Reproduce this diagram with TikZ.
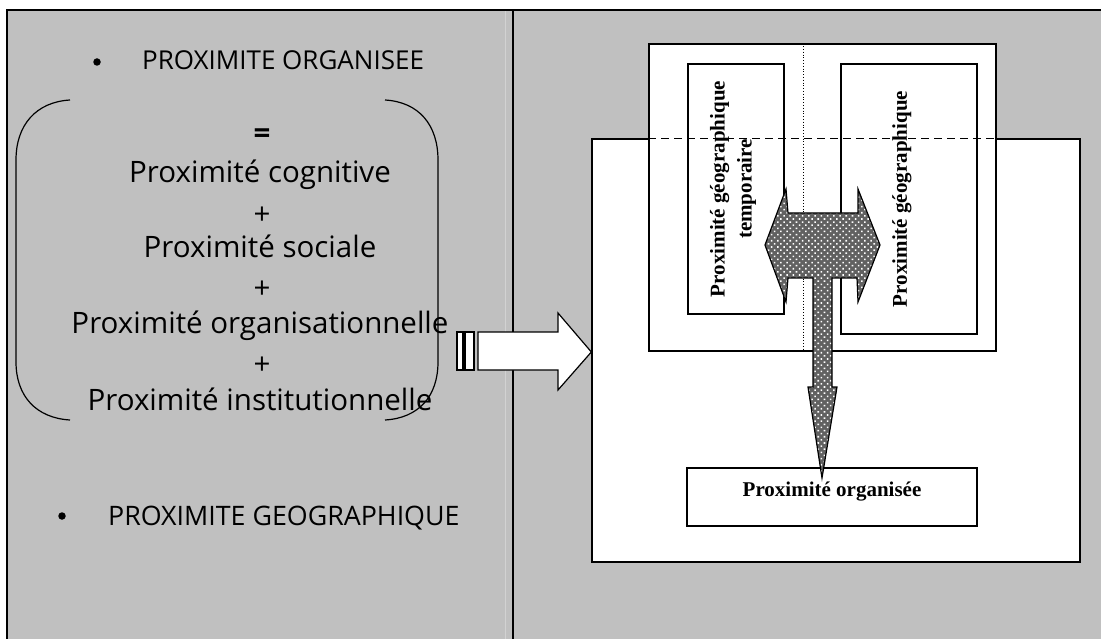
\documentclass[tikz,border=0pt]{standalone}
\usepackage{fontspec}
\setmainfont{Liberation Serif}
\newfontfamily\lfont[Ligatures=NoCommon]{Open Sans}
\usetikzlibrary{patterns,patterns.meta}
\definecolor{bg}{HTML}{C0C0C0}
\definecolor{seam}{HTML}{D2D2D2}
\tikzdeclarepattern{
  name=wdots,
  type=uncolored,
  bounding box={(-2.2pt,-2.2pt) and (2.2pt,2.2pt)},
  tile size={(4.4pt,4.4pt)},
  tile transformation={rotate=45},
  code={\fill (0,0) circle (1.1pt);}
}
\tikzset{
  frame/.style={line width=2pt, line cap=rect},
  boxw/.style={draw, fill=white, line width=1.3pt, inner sep=0pt},
  ltxt/.style={font=\lfont\fontsize{29.5}{34}\selectfont, anchor=base, inner sep=0pt},
  lcap/.style={font=\lfont\fontsize{26}{30}\selectfont, anchor=base west, inner sep=0pt},
  bul/.style={circle, fill=black, inner sep=0pt, minimum size=7.5pt},
  rtxt/.style={font=\bfseries\fontsize{21}{27}\selectfont, inner sep=0pt},
  hatch/.style={draw, line width=1.2pt, line join=miter, preaction={fill=black!62}, pattern=wdots, pattern color=white},
  white arrow/.style={draw, fill=white, line width=1.2pt, line join=miter}
}
\begin{document}
\begin{tikzpicture}[x=1pt,y=-1pt]
\useasboundingbox (0,0) rectangle (1101,639);
\fill[bg] (7,10) rectangle (1101,639);
\draw[seam, line width=1pt] (505,11) -- (505,639);
\draw[frame] (7,639) -- (7,10) -- (1101,10);
\draw[frame] (513,10) -- (513,639);

% left panel
\node[bul] (b1) at (97,62) {};
\node[lcap] (t1) at (142,70) {PROXIMITE ORGANISEE};
\node[bul] (b2) at (62,516) {};
\node[lcap, font=\lfont\fontsize{26.8}{31}\selectfont] (t2) at (108,525) {PROXIMITE GEOGRAPHIQUE};

\node[ltxt, font=\lfont\bfseries\fontsize{29.5}{34}\selectfont, anchor=center] (eq) at (262,136) {=};
\node[ltxt] (l1) at (260,183) {Proximité cognitive};
\node[ltxt, anchor=center] (p1) at (262,216) {+};
\node[ltxt] (l2) at (260,258) {Proximité sociale};
\node[ltxt, anchor=center] (p2) at (262,290) {+};
\node[ltxt] (l3) at (260,334) {Proximité organisationnelle};
\node[ltxt, anchor=center] (p3) at (262,366) {+};
\node[ltxt] (l4) at (260,410) {Proximité institutionnelle};

\draw[line width=1.2pt] (70,100) .. controls (36,102) and (16,125) .. (16,160) -- (16,362) .. controls (16,396) and (36,418) .. (70,420);
\draw[line width=1.2pt] (385,100) .. controls (419,102) and (438,125) .. (438,160) -- (438,362) .. controls (438,396) and (419,418) .. (385,420);

% right panel boxes
\node[boxw, minimum width=488pt, minimum height=423pt] (big) at (836,350.5) {};
\node[boxw, minimum width=347pt, minimum height=307pt] (up) at (822.5,197.5) {};
\draw[line width=0.8pt, dotted] (up.north -| 803,0) -- (up.south -| 803,0);
\node[boxw, minimum width=96pt, minimum height=250pt] (gt) at (736,189) {};
\node[boxw, minimum width=136pt, minimum height=270pt] (gg) at (909,199) {};
\node[rtxt, rotate=90, align=center] (gtt) at (733,189) {Proximité géographique\\temporaire};
\node[rtxt, rotate=90] (ggt) at (902,199) {Proximité géographique};
\draw[line width=1.4pt, dash pattern=on 8pt off 5pt] (up.west |- big.north) -- (up.east |- big.north);

\node[boxw, minimum width=290pt, minimum height=58pt] (po) at (832,497) {};
\node[rtxt] (pot) at (832,492) {Proximité organisée};

% striped arrow
\draw[white arrow] (457,332) rectangle (463,370);
\draw[white arrow] (465,332) rectangle (474,370);
\coordinate (tip) at (big.west |- 0,352);
\draw[white arrow] (478,332) -- (558,332) -- (558,313) -- (tip) -- (558,390) -- (558,370) -- (478,370) -- cycle;

% hatched arrow
\coordinate (dtip) at (822,478);
\draw[hatch] (765,245) -- (786,189) -- (788,213) -- (858,213) -- (858,189) -- (880,245) -- (858,302) -- (857,278) -- (832,278) -- (832,387) -- (837,387) -- (dtip) -- (808,387) -- (813,387) -- (813,278) -- (788,278) -- (786,302) -- cycle;
\end{tikzpicture}
\end{document}
